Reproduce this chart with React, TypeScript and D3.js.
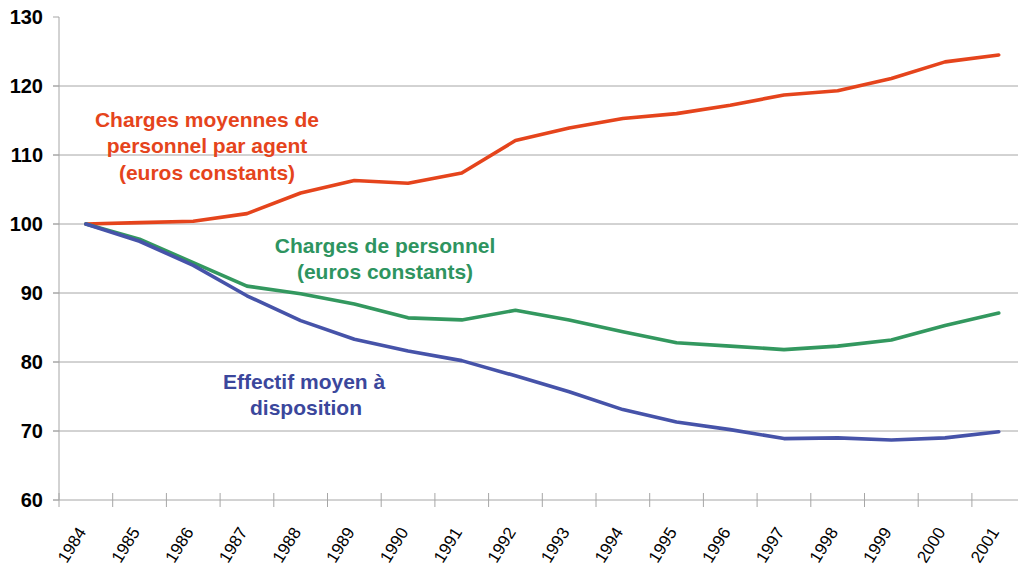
import React from "react";
import * as d3 from "d3";

const years = ["1984","1985","1986","1987","1988","1989","1990","1991","1992","1993","1994","1995","1996","1997","1998","1999","2000","2001"];
const chargesMoyennes = [100, 100.2, 100.4, 101.5, 104.5, 106.3, 105.9, 107.4, 112.1, 113.9, 115.3, 116.0, 117.2, 118.7, 119.3, 121.1, 123.5, 124.5];
const chargesPersonnel = [100, 97.8, 94.4, 91.0, 89.9, 88.4, 86.4, 86.1, 87.5, 86.1, 84.4, 82.8, 82.3, 81.8, 82.3, 83.2, 85.3, 87.1];
const effectif = [100, 97.5, 94.0, 89.6, 86.0, 83.3, 81.6, 80.2, 78.0, 75.7, 73.1, 71.3, 70.2, 68.9, 69.0, 68.7, 69.0, 69.9];
const yTicks = [60, 70, 80, 90, 100, 110, 120, 130];

const W = 1018, H = 570;

export default function App() {
  const x = d3.scaleBand<string>().domain(years).range([59, 59 + 18 * 53.7]);
  const y = d3.scaleLinear().domain([60, 130]).range([500, 17]);
  const cx = (i: number) => (x(years[i]) as number) + x.bandwidth() / 2;
  const line = d3.line<number>().x((_, i) => cx(i)).y(d => y(d)).curve(d3.curveLinear);

  const series = [
    { data: chargesMoyennes, color: "#E5441C" },
    { data: chargesPersonnel, color: "#33985F" },
    { data: effectif, color: "#4653A9" },
  ];
  const ticksX = years.map((yr) => x(yr) as number).concat([59 + 18 * 53.7]);
  const grid = "#A6A6A6";
  const font = "'Liberation Sans', Arial, sans-serif";

  return (
    <svg width={W} height={H} style={{ position: "absolute", left: 0, top: 0, background: "#fff" }} fontFamily={font}>
      {yTicks.map(t => (
        <g key={t}>
          {t > 60 && t < 130 && <line x1={53} x2={W} y1={y(t)} y2={y(t)} stroke={grid} strokeWidth={1} />}
          <line x1={53} x2={59} y1={y(t)} y2={y(t)} stroke={grid} strokeWidth={1} />
          <text x={43} y={y(t)} dy="0.36em" textAnchor="end" fontSize={20} fontWeight="bold" fill="#000">{t}</text>
        </g>
      ))}
      <line x1={59} x2={59} y1={y(130)} y2={y(60)} stroke={grid} strokeWidth={1} />
      <line x1={53} x2={W} y1={y(60)} y2={y(60)} stroke={grid} strokeWidth={1} />
      {ticksX.map((tx, i) => (
        <line key={i} x1={tx} x2={tx} y1={493} y2={507} stroke={grid} strokeWidth={1} />
      ))}
      {years.map((yr, i) => (
        <text key={yr} transform={`translate(${cx(i) + 1},${532}) rotate(-58)`} textAnchor="end" fontSize={17} fill="#000">{yr}</text>
      ))}
      {series.map((s, i) => (
        <path key={i} d={line(s.data) as string} fill="none" stroke={s.color} strokeWidth={3.6} strokeLinejoin="round" strokeLinecap="round" />
      ))}
      <g fontSize={21} fontWeight="bold" textAnchor="middle" fill="#E5441C">
        <text x={207} y={127}>Charges moyennes de</text>
        <text x={207} y={153}>personnel par agent</text>
        <text x={207} y={180}>(euros constants)</text>
      </g>
      <g fontSize={21} fontWeight="bold" textAnchor="middle" fill="#2E9460">
        <text x={385} y={253}>Charges de personnel</text>
        <text x={385} y={279}>(euros constants)</text>
      </g>
      <g fontSize={21} fontWeight="bold" textAnchor="start" fill="#3B479C">
        <text x={223} y={389}>Effectif moyen à</text>
        <text x={250} y={415}>disposition</text>
      </g>
    </svg>
  );
}
